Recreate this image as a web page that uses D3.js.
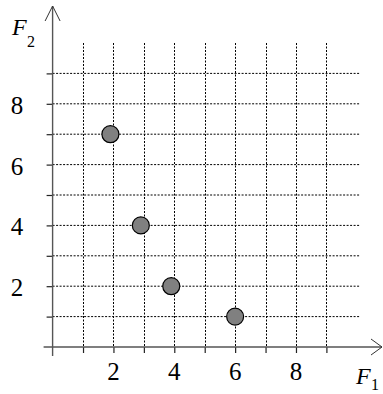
<!DOCTYPE html>
<html>
<head>
<meta charset="utf-8">
<script src="https://cdn.jsdelivr.net/npm/d3@7"></script>
<style>
  html, body { margin: 0; padding: 0; background: #fff; }
  svg { display: block; }
</style>
</head>
<body>
<svg id="chart" width="383" height="394"></svg>
<script>
// Points in the (F1, F2) plane
const f1Values = [1.9, 2.9, 3.9, 6];
const f2Values = [7, 4, 2, 1];
// Grid / tick positions and labelled ticks
const gridTicks = [1, 2, 3, 4, 5, 6, 7, 8, 9];
const labelTicks = [2, 4, 6, 8];

const serif = "Liberation Serif";
const svg = d3.select("#chart");

const x = d3.scaleLinear().domain([0, 9]).range([52.6, 326.4]);
const y = d3.scaleLinear().domain([0, 9]).range([347, 73.4]);

// Dotted grid
svg.append("g").selectAll("line").data(gridTicks).join("line")
  .attr("x1", d => Math.round(x(d)) + 0.5).attr("x2", d => Math.round(x(d)) + 0.5)
  .attr("y1", y(10)).attr("y2", y(0))
  .attr("stroke", "#000").attr("stroke-width", 1).attr("stroke-dasharray", "2,1.5");
svg.append("g").selectAll("line").data(gridTicks).join("line")
  .attr("x1", x(0)).attr("x2", x(10.1))
  .attr("y1", d => y(d)).attr("y2", d => y(d))
  .attr("stroke", "#000").attr("stroke-width", 1).attr("stroke-dasharray", "2,1.5");

// Tick marks from d3 axis generators
const xAxis = d3.axisBottom(x).tickValues(gridTicks).tickSize(6).tickFormat("");
const yAxis = d3.axisLeft(y).tickValues(gridTicks).tickSize(6).tickFormat("");
const gx = svg.append("g").attr("transform", `translate(0,${y(0)})`).call(xAxis);
const gy = svg.append("g").attr("transform", `translate(${x(0)},0)`).call(yAxis);
gx.select(".domain").remove();
gy.select(".domain").remove();
gx.selectAll(".tick line").attr("stroke", "#222").attr("stroke-width", 1.2);
gy.selectAll(".tick line").attr("stroke", "#222").attr("stroke-width", 1.2);

// Axis lines with open arrowheads
const axisColor = "#555";
svg.append("line").attr("x1", x(0) - 9).attr("x2", 382).attr("y1", y(0)).attr("y2", y(0))
  .attr("stroke", axisColor).attr("stroke-width", 1.4);
svg.append("path").attr("d", `M371,${y(0) - 8} L382,${y(0)} L371,${y(0) + 8}`)
  .attr("fill", "none").attr("stroke", "#333").attr("stroke-width", 1);
svg.append("line").attr("x1", x(0)).attr("x2", x(0)).attr("y1", y(0) + 9).attr("y2", 6)
  .attr("stroke", axisColor).attr("stroke-width", 1.4);
svg.append("path").attr("d", `M${x(0) - 7.5},21 L${x(0)},6 L${x(0) + 7.5},21`)
  .attr("fill", "none").attr("stroke", "#333").attr("stroke-width", 1);

// Tick labels
svg.append("g").selectAll("text").data(labelTicks).join("text")
  .attr("x", d => x(d)).attr("y", 380)
  .attr("text-anchor", "middle").attr("font-family", serif).attr("font-size", 25)
  .text(d => d);
svg.append("g").selectAll("text").data(labelTicks).join("text")
  .attr("x", 17).attr("y", d => y(d) + 10)
  .attr("text-anchor", "middle").attr("font-family", serif).attr("font-size", 25)
  .text(d => d);

// Axis titles F2 and F1
function axisTitle(fx, fy, sub, sx, sy) {
  svg.append("text").attr("x", fx).attr("y", fy)
    .attr("font-family", serif).attr("font-style", "italic").attr("font-size", 24).text("F");
  svg.append("text").attr("x", sx).attr("y", sy)
    .attr("font-family", serif).attr("font-size", 16).text(sub);
}
axisTitle(12, 35, "2", 27, 47);
axisTitle(356, 384, "1", 371, 390);

// Points
svg.append("g").selectAll("circle").data(f1Values.map((v, i) => [v, f2Values[i]])).join("circle")
  .attr("cx", d => x(d[0])).attr("cy", d => y(d[1])).attr("r", 8.5)
  .attr("fill", "#808080").attr("stroke", "#000").attr("stroke-width", 1.2);
</script>
</body>
</html>
